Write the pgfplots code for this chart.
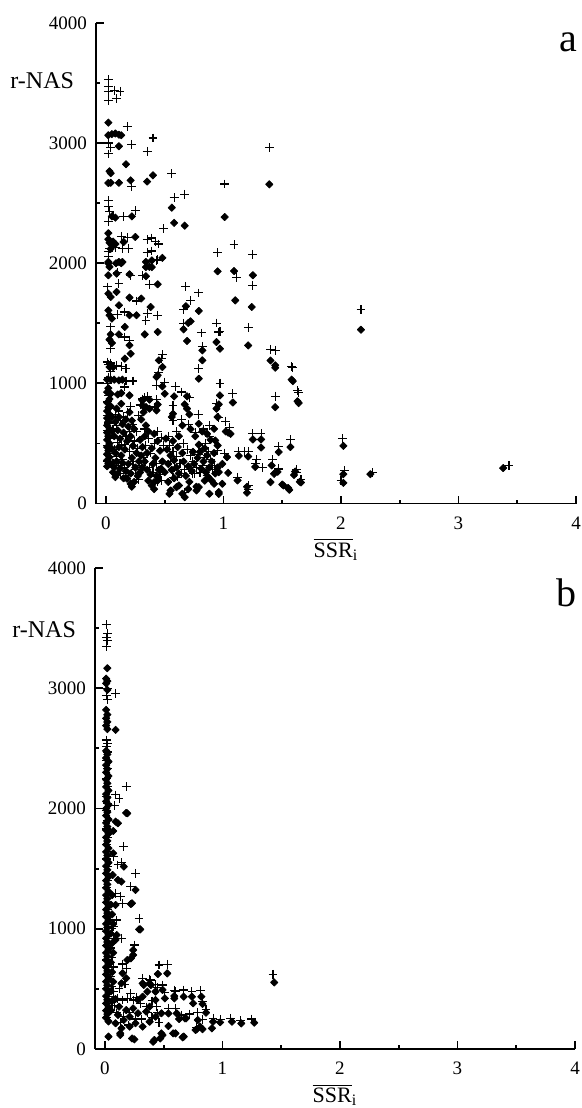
\documentclass[border=0pt]{standalone}
\usepackage{fontspec}
\setmainfont{Liberation Serif}
\usepackage{pgfplots}
\pgfplotsset{compat=1.18}

\pgfplotsset{
  ssrstyle/.style={
    width=240pt, scale only axis,
    xmin=-0.085, xmax=4, ymin=0, ymax=4000,
    axis x line=bottom, axis y line=left,
    axis line style={-, line width=0.9pt, black},
    tick align=inside,
    xtick={0,1,2,3,4}, ytick={0,1000,2000,3000,4000},
    minor xtick={0.5,1.5,2.5,3.5}, minor ytick={500,1500,2500,3500},
    major tick length=4pt, minor tick length=1.8pt,
    every tick/.style={black, line width=0.9pt},
    /pgf/number format/assume math mode=true,
    /pgf/number format/1000 sep={},
    ticklabel style={font=\fontsize{9.5}{10}\selectfont},
    xticklabel style={yshift=-3pt},
    yticklabel style={xshift=-1pt},
    xlabel={$\overline{\mbox{SSR}}_{\mbox{\fontsize{8}{9}\selectfont i}}$},
    xlabel style={font=\fontsize{11}{12}\selectfont, at={(axis description cs:0.5,0)}, anchor=north, yshift=-14pt},
    clip=false,
  },
  dia/.style={only marks, mark=square*, mark size=1.3pt, mark options={rotate=45, fill=black, draw=black, line width=0.35pt, line join=round}},
  plu/.style={only marks, mark=+, mark size=2.2pt, mark options={draw=black, line width=0.55pt}},
}

\begin{document}
\begin{tikzpicture}
\useasboundingbox (0,0) rectangle (291pt,-554pt);

% ---------------- panel a ----------------
\begin{axis}[ssrstyle, height=240.25pt, at={(48pt,-251.75pt)}, anchor=south west]
\addplot[dia] table {
x y
0.02 3171
0.02 3066
0.05 3075
0.08 3080
0.11 3070
0.13 3066
0.11 2974
0.17 2824
0.03 2766
0.04 2750
0.40 2732
0.02 2668
0.04 2670
0.11 2670
0.21 2690
0.35 2680
0.56 2463
0.58 2336
0.67 2313
0.05 2390
0.08 2380
0.22 2390
0.02 2250
0.02 2200
0.03 2170
0.05 2150
0.06 2180
0.08 2160
0.04 2120
0.15 2177
0.25 2219
0.39 2024
0.48 2045
1.39 2657
1.01 2385
0.95 1933
1.09 1935
1.25 1900
1.10 1691
1.24 1636
0.02 2000
0.085 2000
0.13 2000
0.34 1968
0.39 1968
0.02 2011
0.03 1970
0.02 1900
0.11 2011
0.14 2011
0.09 1914
0.20 1908
0.34 2011
0.37 1970
0.34 1892
0.44 1825
0.02 1747
0.04 1720
0.09 1761
0.68 1642
0.72 1517
0.70 1503
0.79 1603
0.20 1714
0.30 1706
0.38 1636
0.11 1650
0.02 1608
0.03 1567
0.05 1539
0.20 1567
0.26 1567
0.04 1408
0.11 1408
0.16 1470
0.33 1408
0.44 1428
0.66 1450
0.69 1353
0.82 1275
0.82 1192
0.03 1364
0.05 1336
0.20 1317
0.21 1247
0.94 1344
0.97 1289
0.16 1206
0.45 1192
0.48 1136
0.44 1067
0.43 1053
0.03 1136
0.06 1136
0.79 1039
0.01 1031
0.04 1031
0.07 1031
0.11 1025
0.14 1031
0.48 975
0.58 892
0.69 892
0.01 928
0.04 914
0.10 908
0.13 919
0.20 900
0.31 858
0.37 864
0.31 817
0.34 803
0.37 789
0.44 825
0.43 775
0.50 914
0.57 747
0.56 720
0.67 825
0.69 789
0.71 742
0.79 664
0.94 789
0.95 720
0.92 622
0.18 206
0.21 164
0.41 178
0.44 192
0.54 81
0.55 108
0.60 136
0.65 81
0.67 53
0.77 108
0.79 136
0.88 81
0.92 164
0.96 95
1.21 1316
1.40 1191
1.44 1150
1.44 1130
1.59 1019
1.64 836
1.44 802
0.97 900
0.96 825
1.08 841
1.02 600
1.04 590
1.06 580
0.93 525
0.95 483
1.25 533
1.32 533
1.32 466
1.57 470
1.47 428
2.02 480
1.03 386
1.13 397
1.21 391
0.99 330
0.96 261
1.04 255
0.99 164
0.96 80
1.27 305
1.41 317
1.43 247
1.40 178
1.46 264
1.12 192
1.20 139
1.20 90
1.60 237
1.51 150
1.56 114
1.66 175
2.02 172
2.17 1447
1.58 1031
1.63 851
2.02 244
2.25 244
3.38 295
1.61 266
1.65 181
1.50 158
1.55 129
0.01 310
0.02 335
0.01 360
0.03 385
0.01 410
0.02 440
0.01 470
0.03 500
0.01 530
0.02 560
0.01 590
0.03 620
0.01 650
0.02 680
0.01 710
0.03 740
0.01 770
0.02 800
0.01 840
0.03 870
0.02 960
0.04 330
0.05 455
0.05 600
0.05 720
0.04 810
0.07 300
0.09 350
0.12 290
0.14 340
0.08 420
0.11 470
0.13 400
0.16 450
0.18 520
0.07 560
0.10 610
0.12 540
0.15 590
0.19 640
0.08 680
0.11 720
0.14 660
0.17 700
0.20 760
0.09 790
0.13 830
0.22 690
0.24 620
0.21 560
0.23 480
0.26 420
0.22 380
0.19 330
0.17 270
0.21 250
0.25 300
0.28 350
0.27 230
0.15 210
0.22 140
0.24 180
0.29 260
0.31 300
0.30 400
0.33 350
0.35 420
0.31 470
0.29 530
0.33 560
0.36 600
0.34 650
0.30 700
0.32 760
0.35 280
0.38 240
0.36 190
0.40 330
0.42 380
0.39 460
0.44 520
0.41 580
0.46 440
0.48 350
0.45 280
0.43 230
0.47 290
0.50 260
0.39 150
0.41 120
0.08 220
0.06 260
0.10 250
0.52 450
0.55 400
0.58 360
0.53 330
0.56 280
0.60 300
0.62 250
0.58 210
0.53 180
0.51 540
0.57 520
0.61 470
0.65 420
0.66 350
0.70 310
0.73 270
0.68 230
0.71 180
0.75 330
0.78 380
0.80 430
0.84 460
0.86 400
0.83 350
0.81 290
0.85 260
0.88 300
0.90 350
0.87 220
0.90 190
0.93 250
0.95 300
0.92 420
0.89 530
0.86 580
0.82 600
0.76 560
0.72 620
0.65 650
0.62 560
0.79 490
0.74 430
0.84 190
0.77 140
0.70 120
0.62 150
};
\addplot[plu] table {
x y
0.02 3530
0.02 3468
0.02 3427
0.02 3357
0.07 3440
0.12 3432
0.09 3371
0.18 3140
0.40 3043
0.02 3001
0.04 2960
0.22 2990
0.35 2932
0.02 2910
0.56 2746
0.22 2640
0.58 2546
0.67 2574
0.02 2520
0.02 2470
0.03 2430
0.06 2400
0.02 2350
0.15 2390
0.25 2440
0.49 2288
0.39 2210
0.42 2180
0.45 2160
0.39 2102
0.95 2088
0.44 2030
1.39 2964
1.01 2660
1.09 2155
1.25 2074
1.11 1880
1.25 1816
0.94 1502
0.97 1433
1.21 1463
0.13 2224
0.14 2121
0.19 2121
0.02 2100
0.02 2060
0.03 2124
0.08 2132
0.18 2216
0.35 2199
0.35 2091
0.43 2024
0.10 1920
0.21 1900
0.31 1900
0.37 1825
0.01 1803
0.11 1830
0.68 1808
0.79 1753
0.66 1614
0.72 1692
0.66 1497
0.26 1686
0.10 1575
0.16 1594
0.35 1580
0.34 1525
0.44 1567
0.04 1470
0.81 1420
0.82 1308
0.16 1386
0.20 1358
0.04 1289
0.96 1428
0.48 1239
0.47 1206
0.45 1094
0.01 1178
0.04 1170
0.09 1150
0.13 1142
0.17 1122
0.79 1122
0.17 1020
0.23 1020
0.50 1011
0.43 983
0.59 975
0.64 928
0.71 880
0.16 970
0.35 892
0.33 880
0.43 864
0.41 803
0.57 817
0.57 692
0.79 742
0.94 830
0.88 650
0.47 192
0.67 95
0.57 220
0.64 253
0.74 247
0.82 317
1.40 1283
1.44 1275
1.59 1130
1.64 927
1.44 894
0.97 1002
1.08 913
0.96 714
1.02 686
1.05 636
1.25 580
1.32 580
1.57 530
1.47 475
2.01 540
1.01 420
1.13 430
1.18 432
1.21 430
1.28 364
1.27 333
1.33 297
1.42 364
1.47 290
1.12 219
1.21 150
1.21 117
1.62 261
1.66 200
2.00 192
2.17 1613
1.58 1140
1.63 940
2.03 272
2.27 258
3.43 315
1.62 281
1.47 286
0.01 350
0.02 420
0.01 480
0.03 545
0.01 610
0.02 670
0.01 730
0.03 790
0.01 850
0.02 900
0.01 1000
0.02 1050
0.04 1100
0.02 1160
0.06 330
0.09 390
0.11 320
0.14 370
0.07 450
0.10 510
0.13 480
0.17 560
0.20 600
0.06 620
0.09 650
0.12 690
0.15 720
0.18 760
0.21 810
0.08 740
0.11 770
0.16 490
0.20 430
0.23 350
0.25 280
0.24 520
0.27 460
0.26 600
0.23 660
0.28 730
0.29 820
0.31 870
0.33 620
0.36 540
0.34 480
0.32 380
0.30 320
0.37 300
0.40 260
0.38 420
0.41 500
0.44 600
0.47 550
0.49 480
0.43 330
0.46 240
0.28 200
0.19 230
0.44 180
0.12 250
0.16 300
0.54 480
0.57 430
0.60 390
0.55 350
0.58 300
0.63 330
0.67 280
0.61 220
0.66 500
0.69 450
0.72 400
0.74 350
0.77 300
0.80 260
0.79 410
0.82 460
0.85 500
0.87 430
0.89 370
0.92 320
0.84 380
0.91 280
0.95 440
0.88 560
0.83 620
0.76 590
0.70 660
0.64 700
0.75 250
0.86 230
0.60 600
0.53 560
};
\node[anchor=west, font=\fontsize{12}{13}\selectfont, inner sep=0pt] at (axis description cs:-0.179,0.879) {r-NAS};
\node[anchor=base, font=\fontsize{20}{22}\selectfont, inner sep=0pt] at (axis description cs:0.984,0.94) {a};
\end{axis}

% ---------------- panel b ----------------
\begin{axis}[ssrstyle, height=240.5pt, at={(47.5pt,-524.5pt)}, anchor=south west]
\addplot[dia] table {
x y
0.02 3167
0.01 3080
0.02 3060
0.01 3040
0.02 2987
0.01 2820
0.02 2780
0.01 2750
0.02 2720
0.01 2690
0.02 2660
0.09 2654
0.01 2480
0.02 2450
0.01 2420
0.03 2390
0.01 2360
0.02 2330
0.01 2300
0.03 2270
0.01 2240
0.02 2210
0.01 2180
0.03 2150
0.01 2120
0.02 2090
0.01 2060
0.03 2030
0.01 2000
0.02 1970
0.01 1940
0.03 1910
0.01 1880
0.02 1850
0.01 1820
0.03 1790
0.01 1760
0.02 1730
0.01 1700
0.03 1670
0.01 1640
0.02 1610
0.01 1580
0.03 1550
0.01 1520
0.02 1490
0.01 1460
0.03 1430
0.01 1400
0.02 1370
0.01 1340
0.03 1310
0.01 1280
0.02 1250
0.01 1220
0.03 1190
0.01 1160
0.02 1130
0.01 1100
0.03 1070
0.01 1040
0.02 1010
0.01 980
0.03 950
0.01 920
0.02 890
0.01 860
0.03 830
0.01 800
0.02 770
0.01 740
0.03 710
0.01 680
0.02 650
0.01 620
0.03 590
0.01 560
0.02 530
0.01 500
0.03 470
0.01 440
0.02 410
0.01 380
0.03 350
0.01 320
0.02 290
0.01 260
0.03 230
0.05 320
0.06 400
0.05 480
0.07 560
0.06 640
0.05 720
0.07 800
0.06 880
0.05 960
0.07 1040
0.06 1120
0.05 1200
0.06 1280
0.18 1963
0.19 1960
0.09 1891
0.11 1877
0.07 1813
0.07 1628
0.16 1517
0.065 1447
0.11 1406
0.14 1392
0.26 1323
0.09 1198
0.22 1206
0.23 1212
0.30 995
0.10 948
0.09 907
0.24 823
0.24 782
0.19 740
0.22 754
0.15 630
0.18 588
0.14 546
0.45 624
0.33 532
0.38 546
0.36 477
0.43 477
0.51 421
0.59 440
0.74 435
0.75 380
0.54 296
0.63 249
0.79 241
0.83 165
0.98 222
1.16 213
1.44 554
0.03 103
0.13 130
0.23 88
0.25 80
0.41 60
0.47 88
0.49 116
0.58 130
0.66 97
0.78 163
0.81 186
0.53 629
0.32 546
0.39 532
0.49 491
0.59 421
0.67 435
0.82 435
0.83 374
0.86 302
0.92 227
0.91 172
1.08 227
1.27 219
0.61 297
0.69 255
0.77 158
0.13 116
0.42 75
0.48 130
0.60 130
0.67 103
0.54 191
0.68 255
0.12 352
0.18 324
0.24 338
0.11 283
0.16 241
0.21 269
0.28 297
0.28 408
0.32 435
0.09 214
0.14 172
0.21 186
0.26 214
0.32 186
0.38 227
0.43 269
0.43 408
0.48 297
0.38 352
0.35 311
0.29 995
0.09 416
};
\addplot[plu] table {
x y
0.01 3527
0.02 3458
0.01 3425
0.02 3400
0.01 3347
0.02 3000
0.09 2959
0.01 2940
0.02 2904
0.01 2570
0.02 2540
0.01 2515
0.02 2470
0.01 2400
0.02 2330
0.01 2250
0.18 2183
0.02 2180
0.09 2113
0.12 2085
0.08 2024
0.01 2100
0.02 2040
0.01 1980
0.02 1900
0.01 1830
0.02 1760
0.01 1700
0.02 1640
0.01 1580
0.02 1520
0.01 1460
0.02 1400
0.01 1340
0.02 1280
0.01 1220
0.02 1160
0.01 1100
0.02 1040
0.01 980
0.02 920
0.01 860
0.02 800
0.01 740
0.02 680
0.01 620
0.02 560
0.01 500
0.02 440
0.01 380
0.02 320
0.01 260
0.06 360
0.07 440
0.06 520
0.05 600
0.07 680
0.06 760
0.05 840
0.07 920
0.06 1000
0.05 1080
0.16 1683
0.07 1600
0.11 1531
0.14 1550
0.26 1461
0.22 1350
0.09 1295
0.13 1267
0.15 1212
0.29 1087
0.10 1073
0.07 1017
0.14 921
0.25 865
0.15 707
0.18 671
0.07 685
0.46 699
0.53 704
0.32 588
0.38 580
0.43 538
0.51 471
0.59 490
0.74 477
0.54 338
0.65 283
0.79 302
0.83 247
0.98 247
1.15 235
1.43 621
0.39 574
0.49 532
0.45 513
0.60 477
0.67 491
0.81 485
0.83 394
0.86 330
0.92 255
1.07 255
1.25 250
0.60 338
0.72 291
0.78 177
0.11 421
0.15 408
0.19 421
0.24 408
0.07 480
0.12 500
0.17 540
0.22 460
0.27 430
0.30 380
0.35 350
0.40 400
0.44 350
0.36 300
0.31 250
0.26 250
0.21 300
0.16 270
0.10 300
0.08 360
0.13 220
0.20 200
0.40 260
0.46 220
0.45 300
};
\node[anchor=west, font=\fontsize{12}{13}\selectfont, inner sep=0pt] at (axis description cs:-0.173,0.871) {r-NAS};
\node[anchor=base, font=\fontsize{20}{22}\selectfont, inner sep=0pt] at (axis description cs:0.983,0.919) {b};
\end{axis}
\end{tikzpicture}
\end{document}
